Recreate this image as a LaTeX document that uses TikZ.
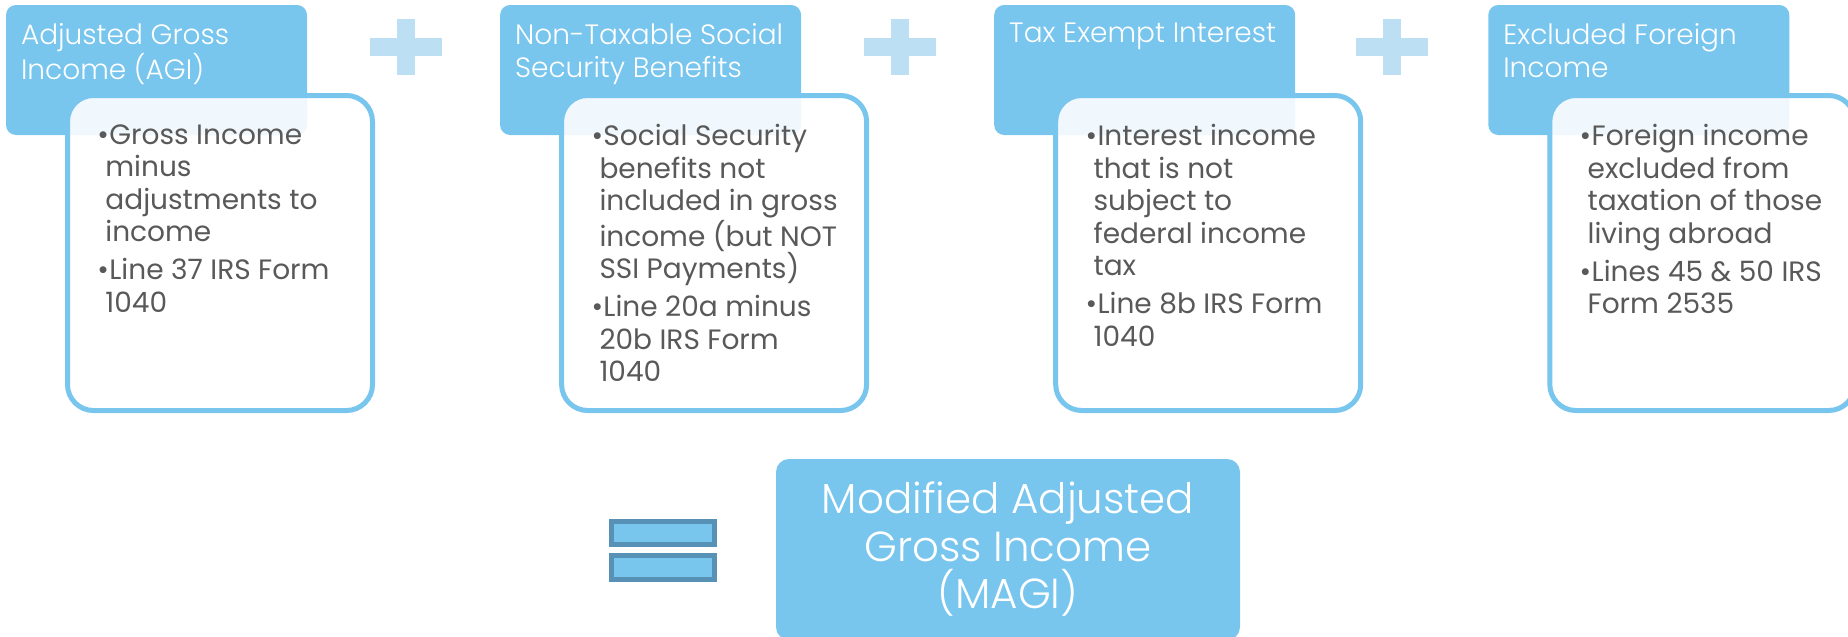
\documentclass[tikz,border=0pt]{standalone}
\usepackage{fontspec}
\setmainfont{Poppins}
\IfFontExistsTF{Poppins Light}{\newfontfamily\thinfont{Poppins Light}}{\newfontfamily\thinfont{Poppins}}
\usetikzlibrary{positioning}

\definecolor{skyblue}{HTML}{78C5EE}
\definecolor{paleblue}{HTML}{BDDFF4}
\definecolor{steelblue}{HTML}{5791B5}
\definecolor{textgray}{HTML}{595959}
\newcommand{\bl}{\makebox[6pt][l]{\textbullet}}
\newcommand{\hi}{\hspace*{4pt}}

\begin{document}
\begin{tikzpicture}[x=0.5pt,y=-0.5pt,
  head/.style={rectangle,rounded corners=5pt,fill=skyblue,minimum width=150.5pt,minimum height=65pt},
  headtext/.style={anchor=north west,inner sep=0pt,align=left,text=white,font=\thinfont\fontsize{14pt}{16.5pt}\selectfont},
  card/.style={rectangle,rounded corners=13pt,draw=skyblue,line width=2.5pt,fill=white,fill opacity=0.89,minimum width=152.5pt,minimum height=157.5pt},
  cardtext/.style={anchor=north west,inner sep=0pt,align=left,text=textgray,font=\fontsize{14pt}{16.25pt}\selectfont},
  plus/.style={fill=paleblue},
  eqbar/.style={fill=skyblue,draw=steelblue,line width=2.5pt},
  result/.style={rectangle,rounded corners=6.5pt,fill=skyblue,minimum width=232pt,minimum height=90.5pt}]
\useasboundingbox (0,0) rectangle (1848,637);

% headers
\node[head] (agi) at (156.5,70) {};
\node[head] (nontax) [right=96.15pt of agi] {};
\node[head] (exempt) [right=96.15pt of nontax] {};
\node[head] (foreign) [right=96.15pt of exempt] {};

\node[headtext] (agilbl) at ([shift={(15,18)}]agi.north west) {Adjusted Gross\\Income (AGI)};
\node[headtext] (nontaxlbl) at ([shift={(15,18)}]nontax.north west) {Non-Taxable Social\\Security Benefits};
\node[headtext] (exemptlbl) at ([shift={(15,18)}]exempt.north west) {Tax Exempt Interest};
\node[headtext] (foreignlbl) at ([shift={(15,18)}]foreign.north west) {Excluded Foreign\\Income};

% plus signs
\foreach \x in {406,900,1392} {
  \fill[plus] (\x-36,38) rectangle (\x+36,56);
  \fill[plus] (\x-9,19) rectangle (\x+9,75);
}

% cards
\node[card] (agibody) at ([shift={(63.5,183)}]agi) {};
\node[card] (nontaxbody) at ([shift={(63.5,183)}]nontax) {};
\node[card] (exemptbody) at ([shift={(63.5,183)}]exempt) {};
\node[card] (foreignbody) at ([shift={(63.5,183)}]foreign) {};

\node[cardtext] (agitxt) at ([shift={(32,31)}]agibody.north west)
  {\bl Gross Income\\\hi minus\\\hi adjustments to\\\hi income\\[2.75pt]
   \bl Line 37 IRS Form\\\hi 1040};
\node[cardtext] (nontaxtxt) at ([shift={(32,31)}]nontaxbody.north west)
  {\bl Social Security\\\hi benefits not\\\hi included in gross\\\hi income (but NOT\\\hi SSI Payments)\\[2.75pt]
   \bl Line 20a minus\\\hi 20b IRS Form\\\hi 1040};
\node[cardtext] (exempttxt) at ([shift={(32,31)}]exemptbody.north west)
  {\bl Interest income\\\hi that is not\\\hi subject to\\\hi federal income\\\hi tax\\[2.75pt]
   \bl Line 8b IRS Form\\\hi 1040};
\node[cardtext] (foreigntxt) at ([shift={(32,31)}]foreignbody.north west)
  {\bl Foreign income\\\hi excluded from\\\hi taxation of those\\\hi living abroad\\[2.75pt]
   \bl Lines 45 \& 50 IRS\\\hi Form 2535};

% equals and result
\filldraw[eqbar] (611.5,521.5) rectangle (714.5,544.5);
\filldraw[eqbar] (611.5,555.5) rectangle (714.5,579.5);
\node[result,align=center,text=white,font=\thinfont\fontsize{21pt}{23.75pt}\selectfont] (magi) at (1008,549.5)
  {Modified Adjusted\\Gross Income\\(MAGI)};
\end{tikzpicture}
\end{document}
